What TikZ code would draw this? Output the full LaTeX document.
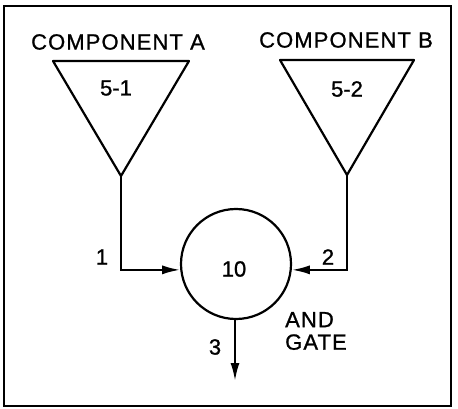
\documentclass[tikz,border=0pt]{standalone}
\usepackage{fontspec}
\setmainfont{Liberation Sans}[FakeBold=1]
\newfontfamily\compfont[LetterSpace=5,FakeBold=1]{Liberation Sans}
\newfontfamily\numfont[FakeBold=1]{Liberation Sans}
\usetikzlibrary{arrows.meta}
\begin{document}
\begin{tikzpicture}[x=1pt,y=-1pt,
  line/.style={line width=2.2pt},
  tip/.style={-{Latex[length=18pt,width=9pt]}},
  lbl/.style={font=\numfont\fontsize{22}{22}\selectfont, inner sep=0pt},
  comp/.style={font=\compfont\fontsize{22}{22.5}\selectfont, inner sep=0pt}]
\useasboundingbox (0,0) rectangle (458,409);
\draw[line width=2.6pt] (4,6) rectangle (451,406);
% component A
\coordinate (a1) at (53,61);
\coordinate (a2) at (189,61);
\coordinate (av) at (121,176);
\draw[line, line join=round] (a1) -- (a2) -- (av) -- cycle;
\node[comp] (ca) at (118,42) {COMPONENT A};
\node[lbl] (na) at (116,88) {5-1};
% component B
\coordinate (b1) at (280,60);
\coordinate (b2) at (414,60);
\coordinate (bv) at (347,175);
\draw[line, line join=round] (b1) -- (b2) -- (bv) -- cycle;
\node[comp] (cb) at (346,40) {COMPONENT B};
\node[lbl] (nb) at (347,89) {5-2};
% gate
\node[circle, draw, line width=2.2pt, minimum size=110pt, inner sep=0pt] (g) at (236,264) {};
\node[lbl] (gt) at (234,269) {10};
\coordinate (out) at (235,381);
\draw[line, tip] (av) |- (g.186.3);
\draw[line, tip] (bv) |- (g.-6.3);
\draw[line, tip] (g.south -| out) -- (out);
\node[lbl] (l1) at (102,257) {1};
\node[lbl] (l2) at (328,257) {2};
\node[lbl] (l3) at (215,347) {3};
\node[comp, anchor=west, align=left] (and) at (285,331) {AND\\GATE};
\end{tikzpicture}
\end{document}
